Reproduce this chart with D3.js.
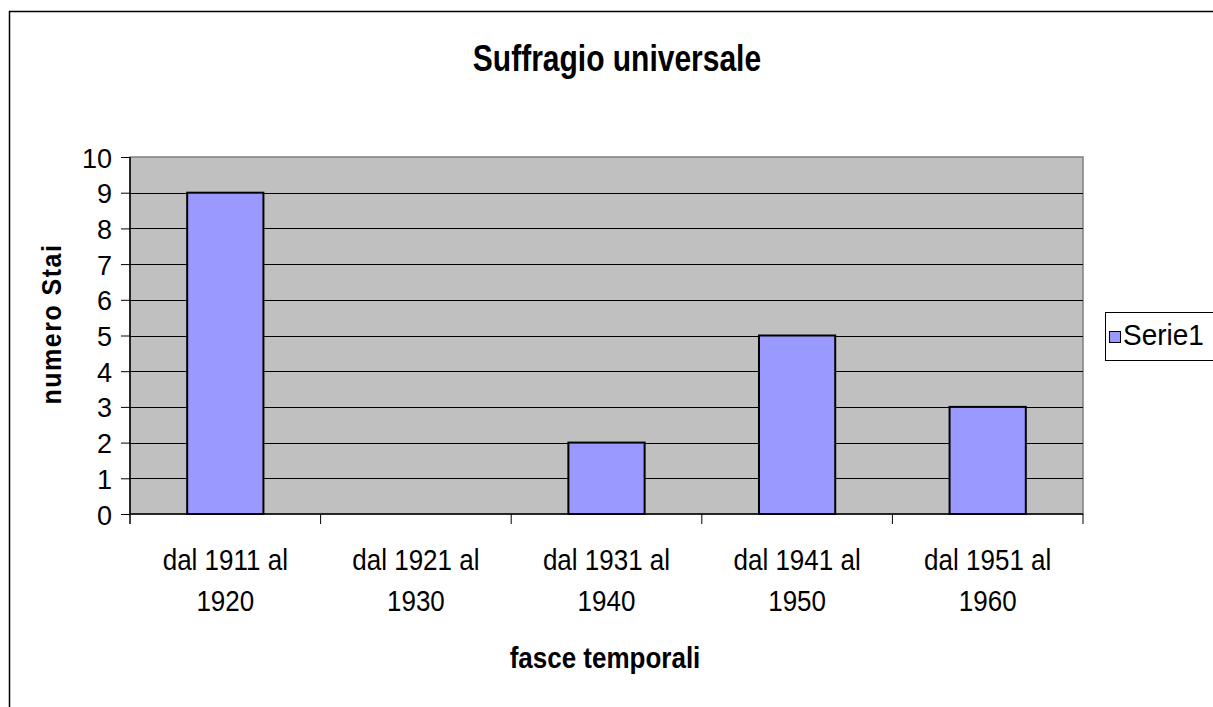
<!DOCTYPE html>
<html lang="it">
<head>
<meta charset="UTF-8">
<script src="https://cdn.jsdelivr.net/npm/d3@7/dist/d3.min.js"></script>
<style>
  body { margin: 0; background: #fff; }
  text { font-family: "Liberation Sans", Arial, sans-serif; fill: #000; }
</style>
</head>
<body>
<svg></svg>
<script>
// data
var categories = ["dal 1911 al|1920", "dal 1921 al|1930", "dal 1931 al|1940", "dal 1941 al|1950", "dal 1951 al|1960"];
var values = [9, 0, 2, 5, 3];
var yTicks = [0, 1, 2, 3, 4, 5, 6, 7, 8, 9, 10];
var seriesName = "Serie1";
var title = "Suffragio universale";
var xTitle = "fasce temporali";
var yTitle = "numero Stai";

var W = 1213, H = 707;
var plot = {left: 130, top: 157, right: 1083, bottom: 514};

var svg = d3.select("svg").attr("width", W).attr("height", H);

// chart frame
svg.append("rect")
  .attr("x", 9.5).attr("y", 11.5)
  .attr("width", 1230).attr("height", 720)
  .attr("fill", "#fff").attr("stroke", "#000").attr("stroke-width", 1.5);

var x = d3.scaleBand()
  .domain(categories)
  .range([plot.left, plot.right])
  .padding(0);

var y = d3.scaleLinear()
  .domain([0, 10])
  .range([plot.bottom, plot.top]);

// plot area
svg.append("rect")
  .attr("x", plot.left).attr("y", plot.top)
  .attr("width", plot.right - plot.left).attr("height", plot.bottom - plot.top)
  .attr("fill", "#c0c0c0").attr("stroke", "#808080").attr("stroke-width", 1.5);

// gridlines
svg.append("g").selectAll("line")
  .data(yTicks.filter(function(d){ return d > 0 && d < 10; }))
  .enter().append("line")
  .attr("x1", plot.left).attr("x2", plot.right)
  .attr("y1", function(d){ return Math.round(y(d)) + 0.5; })
  .attr("y2", function(d){ return Math.round(y(d)) + 0.5; })
  .attr("stroke", "#000").attr("stroke-width", 1);

// bars (gap width 150%)
var rows = categories.map(function(c, i){ return {cat: c, v: values[i]}; })
  .filter(function(d){ return d.v > 0; });
var barW = x.bandwidth() / 2.5;
svg.append("g").selectAll("rect")
  .data(rows)
  .enter().append("rect")
  .attr("x", function(d){ return x(d.cat) + (x.bandwidth() - barW) / 2; })
  .attr("y", function(d){ return y(d.v); })
  .attr("width", barW)
  .attr("height", function(d){ return plot.bottom - y(d.v); })
  .attr("fill", "#9999ff").attr("stroke", "#000").attr("stroke-width", 2);

// y axis
var yAxis = d3.axisLeft(y).tickValues(yTicks).tickSize(9).tickSizeOuter(0).tickPadding(8);
var gy = svg.append("g").attr("transform", "translate(" + plot.left + ",0)").call(yAxis);
gy.select(".domain").attr("stroke", "#000").attr("stroke-width", 1.5)
  .attr("d", "M0," + plot.top + "V" + (plot.bottom + 10));
gy.selectAll(".tick line").attr("stroke", "#000");
gy.selectAll(".tick text")
  .attr("font-size", 27).attr("font-family", "Liberation Sans, Arial, sans-serif")
  .attr("fill", "#000").attr("x", -18).attr("dy", "0.37em");

// x axis: ticks at band boundaries
var gx = svg.append("g").attr("transform", "translate(0," + plot.bottom + ")");
gx.append("line")
  .attr("x1", plot.left).attr("x2", plot.right)
  .attr("y1", 0).attr("y2", 0)
  .attr("stroke", "#000").attr("stroke-width", 1.5);
gx.selectAll(".xt")
  .data(categories)
  .enter().append("line")
  .attr("class", "xt")
  .attr("x1", function(d){ return x(d) + x.bandwidth(); })
  .attr("x2", function(d){ return x(d) + x.bandwidth(); })
  .attr("y1", 0).attr("y2", 10)
  .attr("stroke", "#000").attr("stroke-width", 1);

var xl = gx.selectAll(".xl")
  .data(categories)
  .enter().append("text")
  .attr("class", "xl")
  .attr("text-anchor", "middle")
  .attr("font-size", 26)
  .attr("transform", function(d){ return "translate(" + (x(d) + x.bandwidth() / 2) + ",56) scale(1,1.12)"; });
xl.selectAll("tspan")
  .data(function(d){ return d.split("|"); })
  .enter().append("tspan")
  .attr("x", 0)
  .attr("y", function(d, i){ return i * 37; })
  .text(function(d){ return d; });

// titles
svg.append("text")
  .attr("transform", "translate(617,71) scale(1,1.25)")
  .attr("text-anchor", "middle")
  .attr("font-size", 30).attr("font-weight", "bold")
  .text(title);

svg.append("text")
  .attr("transform", "translate(605,668) scale(1,1.12)")
  .attr("text-anchor", "middle")
  .attr("font-size", 26).attr("font-weight", "bold")
  .text(xTitle);

svg.append("text")
  .attr("transform", "translate(61,324) rotate(-90) scale(1,1.1)")
  .attr("text-anchor", "middle")
  .attr("font-size", 25).attr("font-weight", "bold")
  .attr("letter-spacing", 1.5)
  .text(yTitle);

// legend
var lg = svg.append("g");
lg.append("rect")
  .attr("x", 1105.5).attr("y", 312.5)
  .attr("width", 130).attr("height", 48)
  .attr("fill", "#fff").attr("stroke", "#000").attr("stroke-width", 1);
lg.append("rect")
  .attr("x", 1109.5).attr("y", 331.5)
  .attr("width", 11).attr("height", 11)
  .attr("fill", "#9999ff").attr("stroke", "#000").attr("stroke-width", 1);
lg.append("text")
  .attr("transform", "translate(1123,345) scale(1,1.05)")
  .attr("font-size", 28)
  .text(seriesName);
</script>
</body>
</html>
